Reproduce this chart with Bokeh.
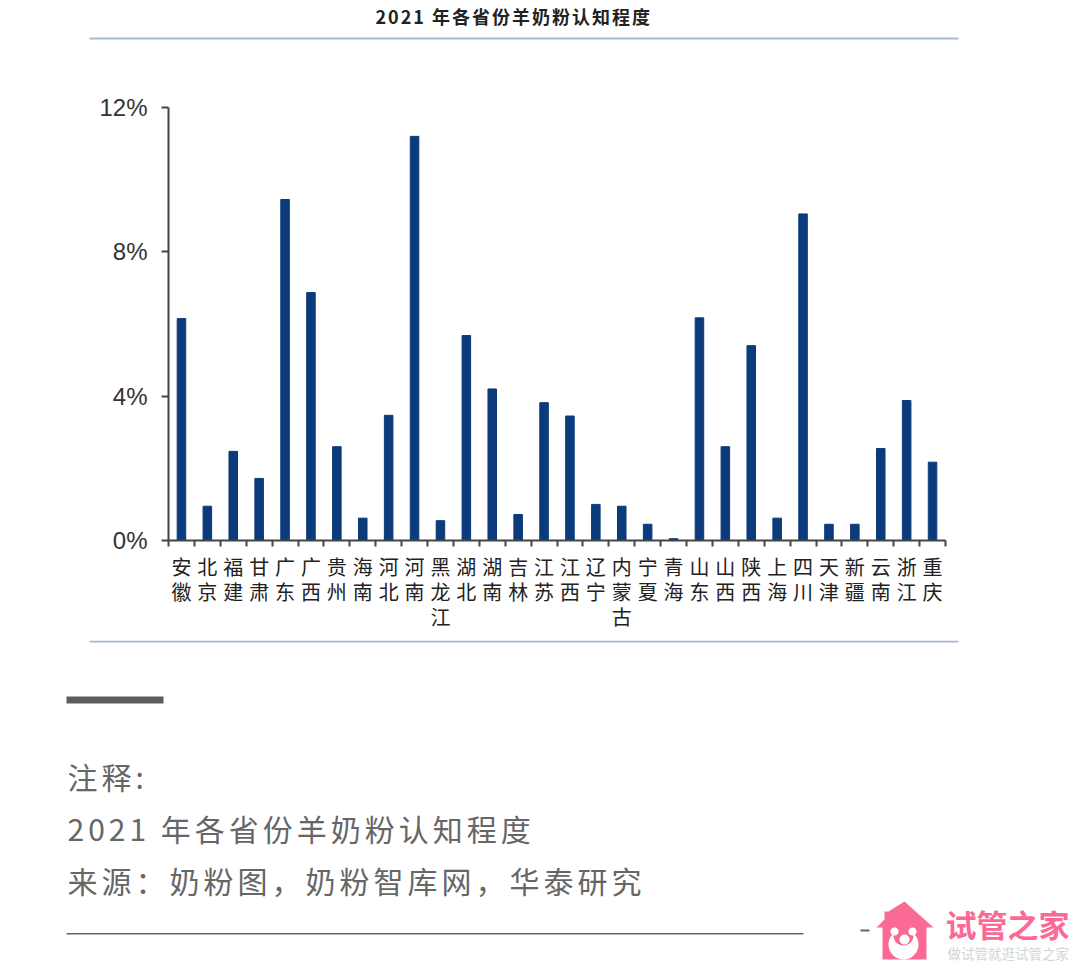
import numpy as np
from bokeh.plotting import figure
from bokeh.layouts import column
from bokeh.core.properties import value
from bokeh.models import FixedTicker, PrintfTickFormatter, Range1d
from bokeh.embed import file_html
from bokeh.resources import INLINE

provinces = ["安徽","北京","福建","甘肃","广东","广西","贵州","海南","河北","河南","黑龙江","湖北","湖南","吉林","江苏",
             "江西","辽宁","内蒙古","宁夏","青海","山东","山西","陕西","上海","四川","天津","新疆","云南","浙江","重庆"]
awareness = [6.15,0.95,2.47,1.72,9.45,6.87,2.6,0.62,3.47,11.2,0.55,5.68,4.2,0.72,3.82,
             3.45,1.0,0.95,0.45,0.05,6.17,2.6,5.4,0.62,9.05,0.45,0.45,2.55,3.88,2.17]
y_ticks = [0, 4, 8, 12]
title = "2021 年各省份羊奶粉认知程度"
notes = ["注释:", "2021 年各省份羊奶粉认知程度", "来源：奶粉图，奶粉智库网，华泰研究"]
brand = "试管之家"
slogan = "做试管就逛试管之家"

SANS = "Noto Sans CJK SC"
W = 1076
H_TOP, H_CHART, H_NOTES, H_LOGO = 45, 595, 261, 71
n = len(provinces)
centers = [i + 0.5 for i in range(n)]


def plain(height, y0, **kw):
    f = figure(width=W, height=height, output_backend="svg", toolbar_location=None, frame_align=False,
               x_range=Range1d(0, W), y_range=Range1d(y0 + height, y0),
               min_border=0, min_border_left=0, min_border_right=0, min_border_top=0, min_border_bottom=0,
               outline_line_color=None, background_fill_color="white", border_fill_color="white", **kw)
    f.axis.visible = False
    f.grid.visible = False
    return f


def rect(f, l, r, t, b, color):
    f.quad(left=[l], right=[r], top=[t], bottom=[b], fill_color=color, line_color=None)


def circle(f, x, y, r, color):
    t = np.linspace(0, 2 * np.pi, 48)
    f.patch(x + r * np.cos(t), y + r * np.sin(t), fill_color=color, line_color=None)


def text(f, x, y, s, size, color, weight="normal", align="left"):
    f.text(x=[x], y=[y], text=[s], text_font=value(SANS), text_font_size=value(size), text_color=color,
           text_font_style=weight, text_align=align, text_baseline="middle")


top = plain(H_TOP, 0, styles={"letter-spacing": "2px"})
text(top, 375, 15.5, title, "18px", "#222222", "bold")
rect(top, 89, 958, 37, 39, "#a9b8d4")

p = figure(width=W, height=H_CHART, output_backend="svg", toolbar_location=None, frame_align=False,
           x_range=Range1d(0, n), y_range=Range1d(0, 12),
           min_border_left=168, min_border_right=W - 945, min_border_top=107 - H_TOP, min_border_bottom=H_TOP + H_CHART - 540,
           outline_line_color=None, background_fill_color="white", border_fill_color="white")
p.grid.visible = False
p.vbar(x=centers, top=awareness, width=0.33, bottom=0, color="#0c3b7c")

ax = p.xaxis[0]
ax.ticker = FixedTicker(ticks=centers, minor_ticks=list(range(n + 1)))
ax.major_label_overrides = {c: "\n".join(s) for c, s in zip(centers, provinces)}
ax.major_tick_in = 0
ax.major_tick_out = 0
ax.minor_tick_in = 0
ax.minor_tick_out = 6
ax.minor_tick_line_color = "#444444"
ax.minor_tick_line_width = 2
ax.axis_line_color = "#444444"
ax.axis_line_width = 2
ax.major_label_text_font = SANS
ax.major_label_text_font_size = "20px"
ax.major_label_text_color = "#222222"
ax.major_label_text_line_height = 0.87
ax.major_label_standoff = 5
ax.major_label_orientation = "horizontal"

ay = p.yaxis[0]
ay.ticker = FixedTicker(ticks=y_ticks)
ay.formatter = PrintfTickFormatter(format="%d%%")
ay.major_tick_in = 0
ay.major_tick_out = 7
ay.minor_tick_in = 0
ay.minor_tick_out = 0
ay.major_tick_line_color = "#444444"
ay.major_tick_line_width = 2
ay.axis_line_color = "#444444"
ay.axis_line_width = 2
ay.major_label_text_font = "Liberation Sans"
ay.major_label_text_font_size = "24px"
ay.major_label_text_color = "#333333"
ay.major_label_standoff = 14

mid = plain(H_NOTES, H_TOP + H_CHART, styles={"letter-spacing": "4px"})
rect(mid, 89, 958, 640, 642, "#a9b8d4")
rect(mid, 66, 163, 696, 703, "#5c5c5c")
text(mid, 67, 775, notes[0], "30px", "#666666")
text(mid, 67, 827, notes[1], "30px", "#666666")
text(mid, 67, 879, notes[2], "30px", "#666666")

bot = plain(H_LOGO, H_TOP + H_CHART + H_NOTES)
rect(bot, 66, 803, 932.5, 934, "#666666")
rect(bot, 860, 869, 929, 931, "#666666")
PINK = "#fb6a95"
bot.patch([904, 933, 926, 926, 882, 882, 876, 884, 884, 888], [901, 927, 927, 959, 959, 927, 927, 919, 911, 911],
          fill_color=PINK, line_color=None)
circle(bot, 903, 944, 15, "white")
circle(bot, 903, 935, 10, PINK)
circle(bot, 894, 931, 4, "white")
circle(bot, 912, 931, 4, "white")
circle(bot, 904, 939, 5, "white")
text(bot, 945, 923, brand, "31px", PINK, "bold")
text(bot, 947, 952, slogan, "13.5px", "#d4d4d4")

open("out.html", "w").write(file_html(column(top, p, mid, bot, spacing=0), INLINE))
